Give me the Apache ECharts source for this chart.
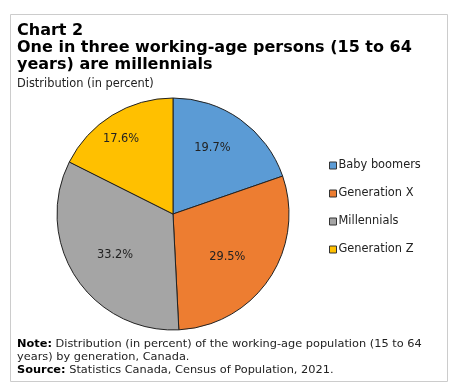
<!DOCTYPE html>
<html><head><meta charset="utf-8">
<script src="https://cdn.jsdelivr.net/npm/echarts@6/dist/echarts.min.js"></script>
<style>html,body{margin:0;padding:0;background:#fff}#c{width:457px;height:391px}</style>
</head><body><div id="c"></div>
<script>
const categories = ["Baby boomers", "Generation X", "Millennials", "Generation Z"];
const values = [19.7, 29.5, 33.2, 17.6];
const colors = ["#5B9BD5", "#ED7D31", "#A5A5A5", "#FFC000"];
const titleLines = ["Chart 2", "One in three working-age persons (15 to 64", "years) are millennials"];
const subtitle = "Distribution (in percent)";
const labelOffsets = [[-7, -1], [-12, -2], [9, -3], [-10, -7]];

const FONT = "DejaVu Sans";
const chart = echarts.init(document.getElementById('c'), null, {renderer: 'canvas'});
const data = categories.map((n, i) => ({name: n, value: values[i], itemStyle: {color: colors[i]}}));
chart.setOption({
  backgroundColor: '#fff',
  animation: false,
  textStyle: {fontFamily: FONT},
  graphic: [
    {type: 'rect', shape: {x: 10.5, y: 14.5, width: 437, height: 367}, style: {fill: 'none', stroke: '#cccccc', lineWidth: 1}, silent: true},
    {type: 'text', left: 17, top: 22, style: {text: titleLines.join('\n'), font: 'bold 16px "DejaVu Sans"', fill: '#000', lineHeight: 17}},
    {type: 'text', left: 17, top: 78, style: {text: subtitle, font: '11.4px "DejaVu Sans"', fill: '#222', lineHeight: 13}},
    {type: 'text', left: 17, top: 338, style: {
      text: '{b|Note:} Distribution (in percent) of the working-age population (15 to 64\nyears) by generation, Canada.\n{b|Source:} Statistics Canada, Census of Population, 2021.',
      font: '11.35px "DejaVu Sans"', fill: '#222', lineHeight: 13,
      rich: {b: {fontWeight: 'bold', fontSize: 11.35, fontFamily: FONT, fill: '#000', lineHeight: 13}}
    }}
  ],
  legend: {
    orient: 'vertical', left: 329, top: 159, padding: 0,
    itemWidth: 7, itemHeight: 7, itemGap: 15, icon: 'rect',
    itemStyle: {borderColor: '#333', borderWidth: 1},
    textStyle: {fontFamily: FONT, fontSize: 11.4, color: '#222', padding: [0, 0, 0, -3], lineHeight: 13},
    data: categories
  },
  series: [
    {
      type: 'pie', center: [173, 214], radius: [0, 116], startAngle: 90, clockwise: true,
      label: {show: false}, labelLine: {show: false},
      itemStyle: {borderColor: '#222', borderWidth: 1},
      emphasis: {disabled: true},
      data: data
    },
    {
      type: 'pie', center: [173, 214], radius: [38, 116], startAngle: 90, clockwise: true, silent: true,
      itemStyle: {color: 'rgba(0,0,0,0)', borderWidth: 0},
      label: {show: true, position: 'inside', formatter: p => p.value.toFixed(1) + '%', fontFamily: FONT, fontSize: 11.4, color: '#222'},
      labelLine: {show: false},
      legendHoverLink: false,
      emphasis: {disabled: true},
      data: categories.map((n, i) => ({name: n + ' ', value: values[i], label: {offset: labelOffsets[i]}}))
    }
  ]
});
</script></body></html>
